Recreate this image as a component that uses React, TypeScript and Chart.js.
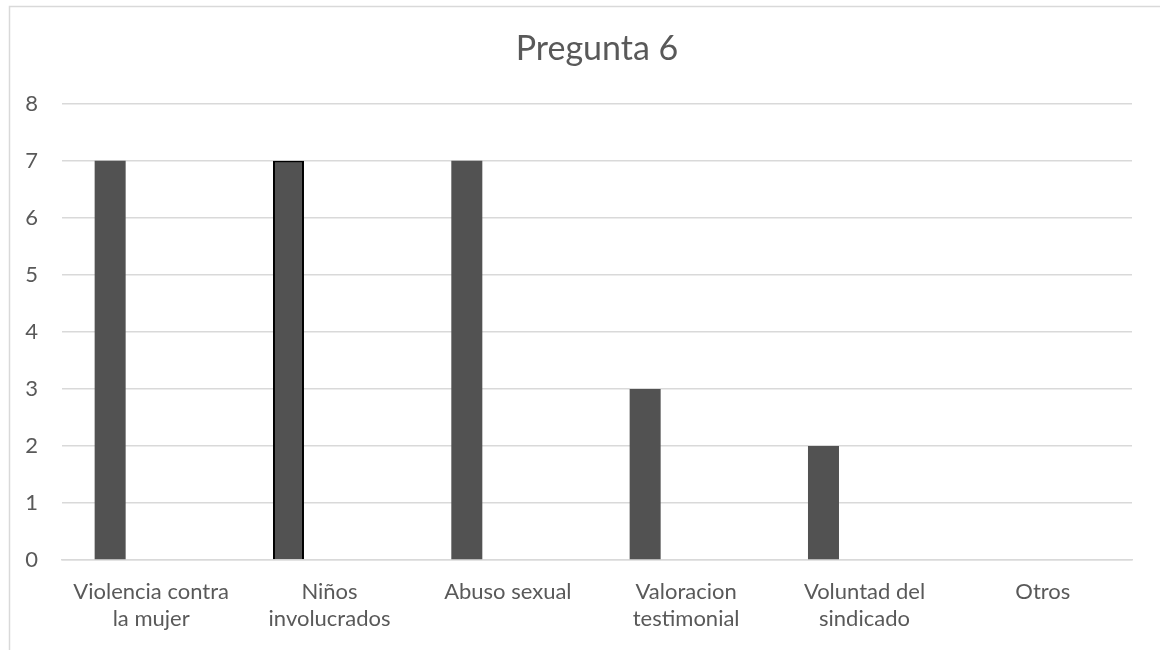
import React, { useEffect, useRef } from "react";
import { Chart, registerables } from "chart.js";

Chart.register(...registerables);

const categories: (string | string[])[] = [
  ["Violencia contra", "la mujer"],
  ["Niños", "involucrados"],
  "Abuso sexual",
  ["Valoracion", "testimonial"],
  ["Voluntad del", "sindicado"],
  "Otros",
];
const seriesValues: (number | null)[] = [7, 7, 7, 3, 2, null];
const emptySeries: (number | null)[] = [null, null, null, null, null, null];
const yTicks: number[] = [0, 1, 2, 3, 4, 5, 6, 7, 8];
const titleText = "Pregunta 6";

const FONT = "Lato, 'Open Sans', sans-serif";
const TEXT = "#595959";

const framePlugin = {
  id: "frame",
  beforeDraw(chart: any) {
    const ctx = chart.ctx;
    ctx.save();
    ctx.fillStyle = "#ffffff";
    ctx.fillRect(0, 0, chart.width, chart.height);
    ctx.strokeStyle = "#d9d9d9";
    ctx.lineWidth = 1.5;
    ctx.strokeRect(9.5, 6.5, chart.width + 20, chart.height + 20);
    ctx.restore();
  },
};

export default function App() {
  const ref = useRef<HTMLCanvasElement | null>(null);
  useEffect(() => {
    document.body.style.margin = "0";
    if (!ref.current) return;
    const chart = new Chart(ref.current, {
      type: "bar",
      data: {
        labels: categories,
        datasets: [
          {
            label: "Serie 1",
            data: seriesValues,
            backgroundColor: "#525252",
            borderColor: "#000000",
            borderWidth: [0, 2, 0, 0, 0, 0],
            categoryPercentage: 0.92,
            barPercentage: 0.378,
          },
          {
            label: "Serie 2",
            data: emptySeries,
            backgroundColor: "#a5a5a5",
            categoryPercentage: 0.92,
            barPercentage: 0.378,
          },
        ],
      },
      options: {
        responsive: false,
        animation: false,
        layout: { padding: { left: 0, right: 28, top: 0, bottom: 0 } },
        plugins: {
          legend: { display: false },
          tooltip: { enabled: false },
          title: {
            display: true,
            fullSize: false,
            text: titleText,
            color: TEXT,
            font: { family: FONT, size: 34, weight: "normal" },
            padding: { top: 29, bottom: 34 },
          },
        },
        scales: {
          x: {
            grid: { display: false, drawTicks: false },
            border: { display: true, color: "#d9d9d9", width: 1.5 },
            ticks: {
              color: TEXT,
              font: { family: FONT, size: 22 },
              padding: 19,
              maxRotation: 0,
              autoSkip: false,
            },
            afterFit(scale: any) {
              scale.height = 90;
            },
          },
          y: {
            min: 0,
            max: 8,
            afterBuildTicks(scale: any) {
              scale.ticks = yTicks.map((v) => ({ value: v }));
            },
            grid: { color: "#d9d9d9", lineWidth: 1.5, drawTicks: false },
            border: { display: false },
            ticks: {
              color: TEXT,
              font: { family: FONT, size: 22 },
              padding: 24,
            },
            afterFit(scale: any) {
              scale.width = 62;
            },
          },
        },
      },
      plugins: [framePlugin],
    });
    return () => chart.destroy();
  }, []);
  return <canvas ref={ref} width={1160} height={650} style={{ display: "block" }} />;
}
